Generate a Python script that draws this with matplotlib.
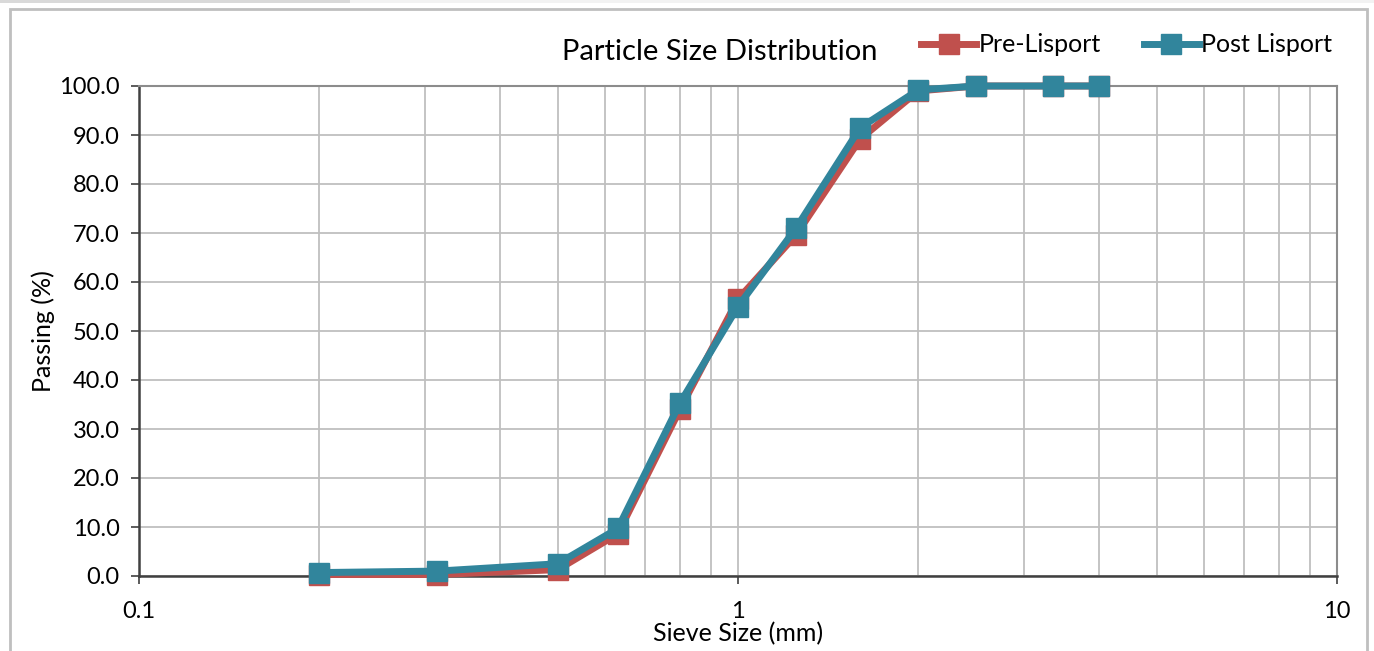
import matplotlib
matplotlib.use("Agg")
import matplotlib.pyplot as plt
from matplotlib.ticker import LogLocator, FixedLocator, NullFormatter, FixedFormatter
from matplotlib.patches import Rectangle

sieve_mm = [0.2, 0.315, 0.5, 0.63, 0.8, 1.0, 1.25, 1.6, 2.0, 2.5, 3.35, 4.0]
pre_lisport = [0.3, 0.3, 1.3, 8.6, 34.0, 56.5, 69.6, 89.2, 99.0, 100.0, 100.0, 100.0]
post_lisport = [0.7, 1.0, 2.5, 9.7, 35.3, 55.0, 71.0, 91.5, 99.2, 100.0, 100.0, 100.0]
y_ticks = [0, 10, 20, 30, 40, 50, 60, 70, 80, 90, 100]
x_major = [0.1, 1, 10]
x_major_labels = ["0.1", "1", "10"]

plt.rcParams['font.family'] = ['Lato', 'DejaVu Sans']

W, H = 1374, 651
fig = plt.figure(figsize=(W / 100, H / 100), dpi=100)
fig.patch.set_facecolor('white')

# top strip and outer chart frame
fig.add_artist(Rectangle((0, 1 - 3 / H), 350 / W, 3 / H, transform=fig.transFigure,
                         facecolor='#d9d9d9', edgecolor='none'))
fig.add_artist(Rectangle((350 / W, 1 - 3 / H), 1 - 350 / W, 3 / H, transform=fig.transFigure,
                         facecolor='#f2f2f2', edgecolor='none'))
fig.add_artist(Rectangle((9.5 / W, -0.1), (1366.5 - 9.5) / W, 1 - 9 / H + 0.1,
                         transform=fig.transFigure, facecolor='none',
                         edgecolor='#bfbfbf', linewidth=2))

ax = fig.add_axes([139 / W, (H - 576) / H, (1337 - 139) / W, (576 - 86) / H])
ax.set_xscale('log')
ax.set_xlim(0.1, 10)
ax.set_ylim(0, 100)

ax.xaxis.set_major_locator(FixedLocator(x_major))
ax.xaxis.set_major_formatter(FixedFormatter(x_major_labels))
ax.xaxis.set_minor_locator(LogLocator(base=10, subs=[2, 3, 4, 5, 6, 7, 8, 9]))
ax.xaxis.set_minor_formatter(NullFormatter())
ax.set_yticks(y_ticks)
ax.set_yticklabels([f"{v:.1f}" for v in y_ticks])

ax.grid(True, which='major', axis='both', color='#bfbfbf', linewidth=1.3)
ax.grid(True, which='minor', axis='x', color='#bfbfbf', linewidth=1.3)
ax.set_axisbelow(True)

for s in ['top', 'right']:
    ax.spines[s].set_color('#8c8c8c')
    ax.spines[s].set_linewidth(1.5)
for s in ['left', 'bottom']:
    ax.spines[s].set_color('#404040')
    ax.spines[s].set_linewidth(1.8)

ax.tick_params(axis='both', which='major', direction='out', length=6, width=1.2,
               color='#404040', labelsize=17, pad=8, labelcolor='black')
ax.tick_params(axis='x', which='minor', length=0)
ax.tick_params(axis='x', which='major', pad=12)

ax.plot(sieve_mm, pre_lisport, color='#C0504D', linewidth=5, marker='s',
        markersize=14, label='Pre-Lisport', solid_joinstyle='round', zorder=3, clip_on=False)
ax.plot(sieve_mm, post_lisport, color='#31859C', linewidth=5, marker='s',
        markersize=14, label='Post Lisport', solid_joinstyle='round', zorder=4, clip_on=False)

ax.set_xlabel('Sieve Size (mm)', fontsize=18, va='center')
ax.set_ylabel('Passing (%)', fontsize=18, va='center')
ax.xaxis.set_label_coords(0.5, -(634 - 576) / 490)
ax.yaxis.set_label_coords(-(139 - 43) / 1198, 0.5)

fig.text(720 / W, 1 - 52 / H, 'Particle Size Distribution', fontsize=21,
         ha='center', va='center')

fig.legend(loc='center right', bbox_to_anchor=(1342 / W, 1 - 45 / H), ncol=2,
           frameon=False, fontsize=18, handlelength=2.2, columnspacing=1.7,
           handletextpad=0.1, borderaxespad=0)

fig.savefig('out.png', dpi=100)
